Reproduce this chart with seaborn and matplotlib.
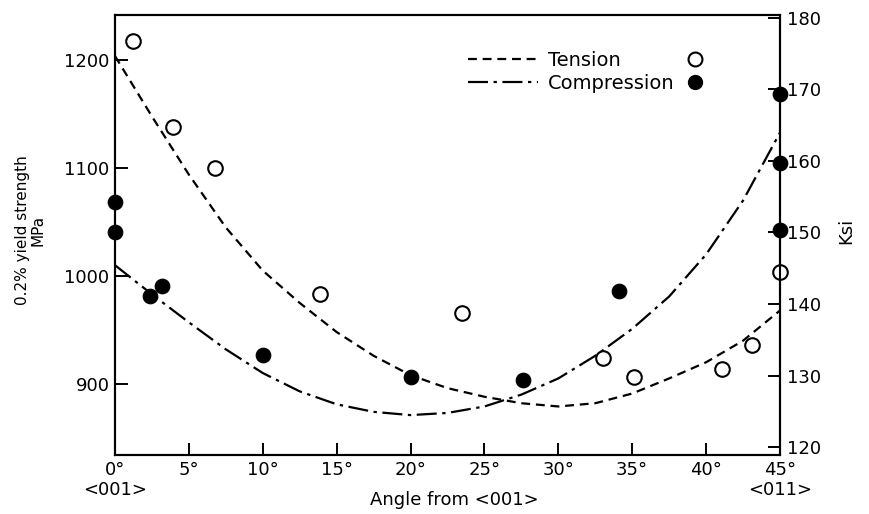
import matplotlib
matplotlib.use("Agg")
import matplotlib.pyplot as plt
from matplotlib.lines import Line2D
import seaborn as sns
import pandas as pd

# measured points (angle in degrees, 0.2% yield strength in MPa)
tension_angle = [1.2, 3.9, 6.8, 13.9, 23.5, 33.0, 35.1, 41.1, 43.1, 45.0]
tension_mpa = [1218, 1138, 1100, 983, 966, 924, 906, 914, 936, 1004]

compression_angle = [0.0, 0.0, 2.4, 3.2, 10.0, 20.0, 27.6, 34.1, 45.0, 45.0, 45.0]
compression_mpa = [1069, 1041, 981, 991, 927, 906, 904, 986, 1169, 1105, 1043]

# fitted curves
curve_angle = [0.0, 2.5, 5.0, 7.5, 10.0, 12.5, 15.0, 17.5, 20.0, 22.5,
               25.0, 27.5, 30.0, 32.5, 35.0, 37.5, 40.0, 42.5, 45.0]
tension_curve_mpa = [1204, 1148, 1094, 1045, 1005, 975, 948, 926, 908, 896,
                     888, 882, 879, 882, 891, 905, 920, 940, 968]
compression_curve_mpa = [1010, 983, 957, 932, 910, 893, 881, 874, 871, 873,
                         879, 890, 905, 926, 951, 981, 1020, 1070, 1133]

x_ticks = [0, 5, 10, 15, 20, 25, 30, 35, 40, 45]
x_ticklabels = ["0°\n<001>", "5°", "10°", "15°", "20°", "25°", "30°", "35°", "40°", "45°\n<011>"]
mpa_ticks = [900, 1000, 1100, 1200]
ksi_ticks = [120, 130, 140, 150, 160, 170, 180]

sns.set_style("ticks")
plt.rcParams["font.family"] = ["DejaVu Sans"]
plt.rcParams.update({"text.color": "black", "axes.labelcolor": "black",
                     "xtick.color": "black", "ytick.color": "black"})

tension = pd.DataFrame({"angle": tension_angle, "mpa": tension_mpa})
compression = pd.DataFrame({"angle": compression_angle, "mpa": compression_mpa})
curves = pd.DataFrame({"angle": curve_angle, "tension": tension_curve_mpa,
                       "compression": compression_curve_mpa})

fig = plt.figure(figsize=(8.69, 5.14), dpi=100)
ax = fig.add_axes([0.1323, 0.1148, 0.7653, 0.856])

dash_t = (0, (4, 2.6))
dash_c = (0, (9, 2.5, 1.5, 2.5))

sns.lineplot(data=curves, x="angle", y="tension", ax=ax, color="black", lw=1.6,
             linestyle=dash_t)
sns.lineplot(data=curves, x="angle", y="compression", ax=ax, color="black", lw=1.6,
             linestyle=dash_c)
sns.scatterplot(data=tension, x="angle", y="mpa", ax=ax, s=110, marker="o",
                facecolor="white", edgecolor="black", linewidth=1.5, clip_on=False, zorder=5)
sns.scatterplot(data=compression, x="angle", y="mpa", ax=ax, s=110, marker="o",
                color="black", edgecolor="black", clip_on=False, zorder=5)

ax.set_xlim(0, 45)
ax.set_ylim(834, 1242)
ax.set_xticks(x_ticks)
ax.set_xticklabels(x_ticklabels, fontsize=13)
ax.set_yticks(mpa_ticks)
ax.set_yticklabels([str(v) for v in mpa_ticks], fontsize=13)
ax.tick_params(direction="in", length=9, width=1.4, pad=4, top=False, right=False)
ax.tick_params(axis="x", pad=4)

ax.set_xlabel("Angle from <001>", fontsize=13)
ax.xaxis.set_label_coords(0.511, -0.082)
ax.set_ylabel("0.2% yield strength\nMPa", fontsize=11, linespacing=1.1)
ax.yaxis.set_label_coords(-0.104, 0.51)

for sp in ax.spines.values():
    sp.set_linewidth(1.5)
    sp.set_color("black")

ax2 = ax.twinx()
ax2.set_ylim(118.9, 180.4)
ax2.set_yticks(ksi_ticks)
ax2.set_yticklabels([str(v) for v in ksi_ticks], fontsize=13)
ax2.tick_params(axis="y", direction="in", length=9, width=1.4, pad=5,
                left=False, right=True)
ax2.set_ylabel("Ksi", fontsize=13, rotation=90)
ax2.yaxis.set_label_coords(1.086, 0.51)
for sp in ax2.spines.values():
    sp.set_linewidth(1.5)
    sp.set_color("black")

# legend: line sample, label, then the marker on the right
line_handles = [Line2D([], [], color="black", lw=1.6, linestyle=dash_t),
                Line2D([], [], color="black", lw=1.6, linestyle=dash_c)]
leg1 = ax.legend(line_handles, ["Tension", "Compression"], loc="upper left",
                 bbox_to_anchor=(468 / 869, 1 - 51 / 514), bbox_transform=fig.transFigure,
                 frameon=False, fontsize=14, handlelength=3.6, handletextpad=0.5,
                 labelspacing=0.2, borderpad=0, borderaxespad=0)
ax.add_artist(leg1)
marker_handles = [Line2D([], [], ls="none", marker="o", markersize=10,
                         markerfacecolor="white", markeredgecolor="black", markeredgewidth=1.5),
                  Line2D([], [], ls="none", marker="o", markersize=10,
                         markerfacecolor="black", markeredgecolor="black")]
ax.legend(marker_handles, ["", ""], loc="upper left",
          bbox_to_anchor=(685 / 869, 1 - 51 / 514), bbox_transform=fig.transFigure,
          frameon=False, fontsize=14, handlelength=1.0, handletextpad=0,
          labelspacing=0.2, borderpad=0, borderaxespad=0)

fig.savefig("out.png", dpi=100)
